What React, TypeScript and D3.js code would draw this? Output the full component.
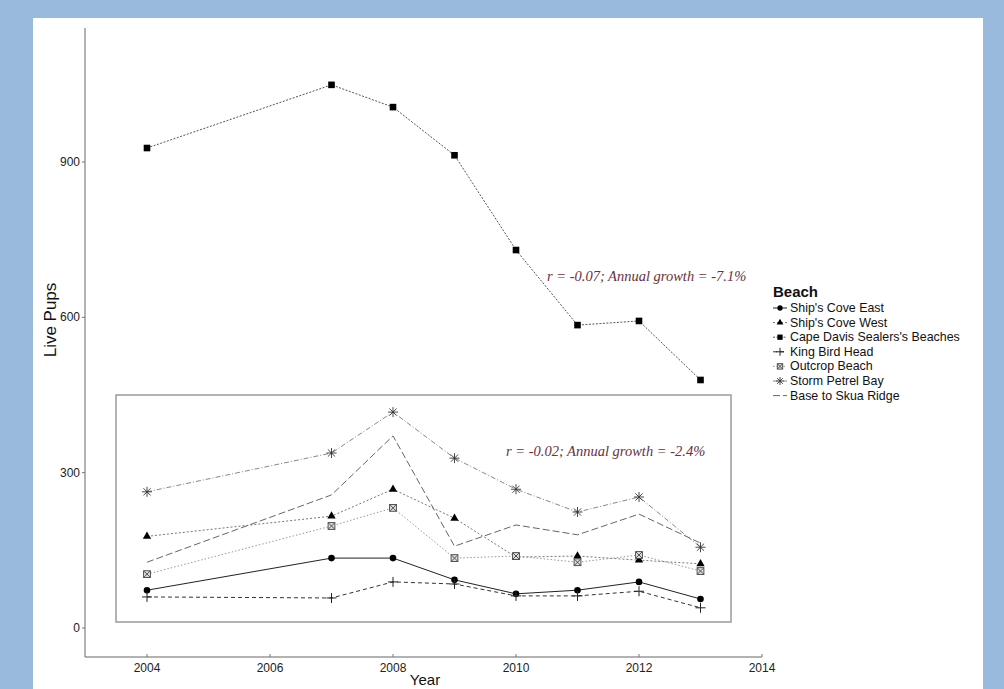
import React from "react";
import * as d3 from "d3";

// Survey years and live pup counts per beach
const years = [2004, 2007, 2008, 2009, 2010, 2011, 2012, 2013];
const capeDavis = [927, 1049, 1006, 913, 730, 585, 593, 479];
const shipsCoveEast = [73, 135, 135, 93, 66, 73, 89, 56];
const shipsCoveWest = [177, 216, 268, 212, 137, 139, 131, 124];
const kingBirdHead = [60, 58, 89, 85, 62, 62, 71, 39];
const outcropBeach = [104, 197, 232, 135, 139, 127, 141, 110];
const stormPetrelBay = [263, 338, 417, 328, 268, 224, 253, 156];
const baseToSkua = [127, 257, 371, 158, 199, 180, 220, 164];

const xTicks = [2004, 2006, 2008, 2010, 2012, 2014];
const yTicks = [0, 300, 600, 900];

type Shape = "circle" | "triangle" | "square" | "plus" | "boxx" | "star" | "none";

const series: { name: string; values: number[]; shape: Shape; stroke: string; dash: string; width: number }[] = [
  { name: "Ship's Cove East", values: shipsCoveEast, shape: "circle", stroke: "#222", dash: "", width: 1 },
  { name: "Ship's Cove West", values: shipsCoveWest, shape: "triangle", stroke: "#777", dash: "2,2", width: 1 },
  { name: "Cape Davis Sealers's Beaches", values: capeDavis, shape: "square", stroke: "#555", dash: "2,1.5", width: 1 },
  { name: "King Bird Head", values: kingBirdHead, shape: "plus", stroke: "#333", dash: "4,3", width: 1 },
  { name: "Outcrop Beach", values: outcropBeach, shape: "boxx", stroke: "#999", dash: "1.5,2", width: 1 },
  { name: "Storm Petrel Bay", values: stormPetrelBay, shape: "star", stroke: "#888", dash: "5,2,1,2", width: 1 },
  { name: "Base to Skua Ridge", values: baseToSkua, shape: "none", stroke: "#666", dash: "7,3", width: 1 },
];

const x = d3.scaleLinear().domain([2004, 2014]).range([147, 762]);
const y = d3.scaleLinear().domain([0, 900]).range([628, 162]);

function Marker({ shape, cx, cy, s = 1 }: { shape: Shape; cx: number; cy: number; s?: number }) {
  const t = `translate(${cx},${cy})`;
  if (shape === "circle") return <circle cx={cx} cy={cy} r={3.3 * s} fill="#000" />;
  if (shape === "triangle")
    return <path transform={t} d={d3.symbol(d3.symbolTriangle, 30 * s * s)()!} fill="#000" />;
  if (shape === "square")
    return <rect x={cx - 3.3 * s} y={cy - 3.3 * s} width={6.6 * s} height={6.6 * s} fill="#000" />;
  if (shape === "plus")
    return (
      <g transform={t} stroke="#222" strokeWidth={1}>
        <line x1={-5 * s} x2={5 * s} y1={0} y2={0} />
        <line x1={0} x2={0} y1={-5 * s} y2={5 * s} />
      </g>
    );
  if (shape === "boxx")
    return (
      <g transform={t} stroke="#444" strokeWidth={0.9} fill="#ddd">
        <rect x={-3.4 * s} y={-3.4 * s} width={6.8 * s} height={6.8 * s} />
        <line x1={-3 * s} y1={-3 * s} x2={3 * s} y2={3 * s} />
        <line x1={-3 * s} y1={3 * s} x2={3 * s} y2={-3 * s} />
      </g>
    );
  if (shape === "star")
    return (
      <g transform={t} stroke="#333" strokeWidth={0.9}>
        <line x1={-5 * s} x2={5 * s} y1={0} y2={0} />
        <line x1={0} x2={0} y1={-5 * s} y2={5 * s} />
        <line x1={-3.6 * s} y1={-3.6 * s} x2={3.6 * s} y2={3.6 * s} />
        <line x1={-3.6 * s} y1={3.6 * s} x2={3.6 * s} y2={-3.6 * s} />
      </g>
    );
  return null;
}

export default function App() {
  const line = d3
    .line<number>()
    .x((_, i) => x(years[i]))
    .y((v) => y(v));
  const sans = "Liberation Sans, Arial, sans-serif";
  const serif = "Liberation Serif, Times New Roman, serif";
  const legendY = (i: number) => 308 + i * 14.6;

  return (
    <svg width={1004} height={689} style={{ position: "absolute", left: 0, top: 0 }}>
      <rect x={0} y={0} width={1004} height={689} fill="#99badd" />
      <rect x={33} y={18} width={950} height={671} fill="#ffffff" />

      {/* axes */}
      <line x1={85} x2={85} y1={28} y2={657} stroke="#666" strokeWidth={1} />
      <line x1={85} x2={762} y1={657} y2={657} stroke="#666" strokeWidth={1} />
      {yTicks.map((t) => (
        <g key={t}>
          <line x1={82} x2={85} y1={y(t)} y2={y(t)} stroke="#777" />
          <text x={80} y={y(t) + 4} textAnchor="end" fontFamily={sans} fontSize={12} fill="#222">
            {t}
          </text>
        </g>
      ))}
      {xTicks.map((t) => (
        <g key={t}>
          <line x1={x(t)} x2={x(t)} y1={654} y2={657} stroke="#777" />
          <text x={x(t)} y={672} textAnchor="middle" fontFamily={sans} fontSize={12} fill="#222">
            {t}
          </text>
        </g>
      ))}
      <text x={425} y={685} textAnchor="middle" fontFamily={sans} fontSize={15} fill="#111">
        Year
      </text>
      <text
        transform="translate(56,320) rotate(-90)"
        textAnchor="middle"
        fontFamily={sans}
        fontSize={17}
        fill="#111"
      >
        Live Pups
      </text>

      {/* inset frame around the smaller beaches */}
      <rect x={116} y={395} width={615} height={227} fill="none" stroke="#9a9a9a" strokeWidth={1.5} />

      {/* series lines and markers */}
      {series.map((s) => (
        <g key={s.name}>
          <path d={line(s.values)!} fill="none" stroke={s.stroke} strokeWidth={s.width} strokeDasharray={s.dash} />
          {s.values.map((v, i) => (
            <Marker key={i} shape={s.shape} cx={x(years[i])} cy={y(v)} />
          ))}
        </g>
      ))}

      {/* growth annotations */}
      <text x={547} y={281} fontFamily={serif} fontStyle="italic" fontSize={14.5} fill="#6b2f40">
        r = -0.07; Annual growth = -7.1%
      </text>
      <text x={506} y={456} fontFamily={serif} fontStyle="italic" fontSize={14.5} fill="#6b2f40">
        r = -0.02; Annual growth = -2.4%
      </text>

      {/* legend */}
      <text x={773} y={297} fontFamily={sans} fontSize={15} fontWeight="bold" fill="#111">
        Beach
      </text>
      {series.map((s, i) => (
        <g key={s.name}>
          <line x1={773} x2={787} y1={legendY(i)} y2={legendY(i)} stroke={s.stroke} strokeDasharray={s.dash} />
          <Marker shape={s.shape} cx={780} cy={legendY(i)} s={0.8} />
          <text x={790} y={legendY(i) + 4} fontFamily={sans} fontSize={12.4} fill="#111">
            {s.name}
          </text>
        </g>
      ))}
    </svg>
  );
}
